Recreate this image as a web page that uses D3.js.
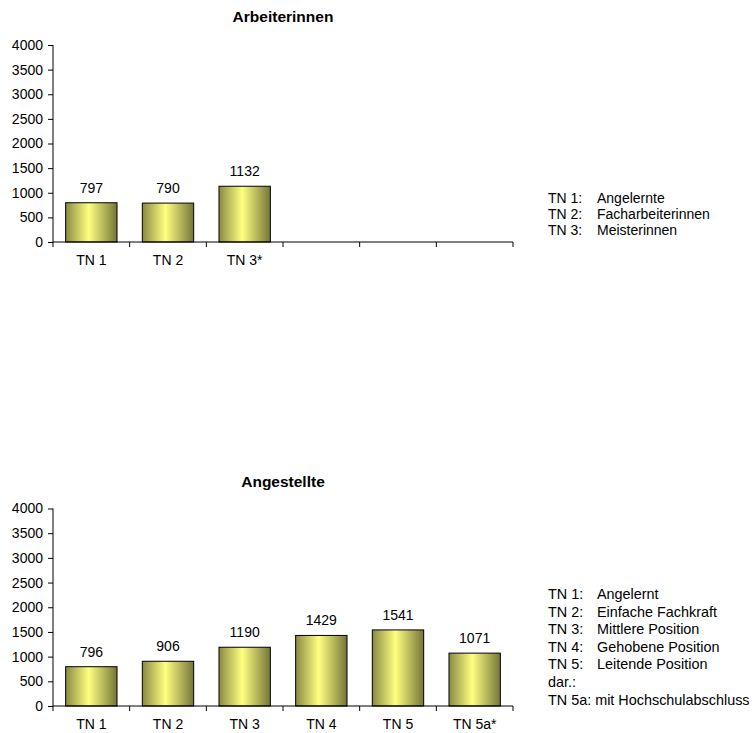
<!DOCTYPE html>
<html>
<head>
<meta charset="utf-8">
<script src="https://cdn.jsdelivr.net/npm/d3@7"></script>
<style>
  body { margin: 0; background: #fff; }
  svg { display: block; font-family: "Liberation Sans", Arial, sans-serif; }
</style>
</head>
<body>
<svg id="chart" width="754" height="733"></svg>
<script>
// ---- Data ----
const topTitle = "Arbeiterinnen";
const topCategories = ["TN 1", "TN 2", "TN 3*", "", "", ""];
const topValues = [797, 790, 1132, null, null, null];
const topLegendKeys = ["TN 1:", "TN 2:", "TN 3:"];
const topLegendTexts = ["Angelernte", "Facharbeiterinnen", "Meisterinnen"];

const bottomTitle = "Angestellte";
const bottomCategories = ["TN 1", "TN 2", "TN 3", "TN 4", "TN 5", "TN 5a*"];
const bottomValues = [796, 906, 1190, 1429, 1541, 1071];
const bottomLegendKeys = ["TN 1:", "TN 2:", "TN 3:", "TN 4:", "TN 5:", "dar.:", "TN 5a: mit Hochschulabschluss"];
const bottomLegendTexts = ["Angelernt", "Einfache Fachkraft", "Mittlere Position", "Gehobene Position", "Leitende Position", "", ""];

const yTicks = [0, 500, 1000, 1500, 2000, 2500, 3000, 3500, 4000];

// ---- Drawing ----
const FS = "14px";
const svg = d3.select("#chart");
const defs = svg.append("defs");
const grad = defs.append("linearGradient").attr("id", "barGrad")
  .attr("x1", "0%").attr("x2", "100%").attr("y1", "0%").attr("y2", "0%");
grad.append("stop").attr("offset", "0%").attr("stop-color", "#8a8a44");
grad.append("stop").attr("offset", "45%").attr("stop-color", "#ffff80");
grad.append("stop").attr("offset", "100%").attr("stop-color", "#75753a");

function drawChart(cfg) {
  const g = svg.append("g");
  const idx = cfg.categories.map((d, i) => i);
  const x = d3.scaleBand().domain(idx).range([cfg.x0, cfg.x1]).paddingInner(0.33).paddingOuter(0.165);
  const y = d3.scaleLinear().domain([0, 4000]).range([cfg.yBottom, cfg.yTop]);

  // title
  g.append("text").attr("x", (cfg.x0 + cfg.x1) / 2).attr("y", cfg.titleY)
    .attr("text-anchor", "middle").attr("dy", "0.35em")
    .attr("font-weight", "bold").attr("font-size", "15.5px").text(cfg.title);

  // bars
  const data = idx.filter(i => cfg.values[i] != null);
  g.selectAll("rect.bar").data(data).join("rect").attr("class", "bar")
    .attr("x", i => x(i)).attr("width", x.bandwidth())
    .attr("y", i => y(cfg.values[i])).attr("height", i => y(0) - y(cfg.values[i]))
    .attr("fill", "url(#barGrad)").attr("stroke", "#000").attr("stroke-width", 1);

  // value labels
  g.selectAll("text.val").data(data).join("text").attr("class", "val")
    .attr("x", i => x(i) + x.bandwidth() / 2).attr("y", i => y(cfg.values[i]) - 10)
    .attr("text-anchor", "middle").attr("font-size", FS).text(i => cfg.values[i]);

  // y axis
  const yAxis = d3.axisLeft(y).tickValues(yTicks).tickFormat(d3.format("d")).tickSize(5).tickPadding(5);
  const ya = g.append("g").attr("transform", `translate(${cfg.x0},0)`).call(yAxis);
  ya.selectAll("text").attr("font-size", FS).attr("fill", "#000");
  ya.attr("font-family", null);
  ya.selectAll("line").attr("stroke", "#000");
  ya.select(".domain").attr("stroke", "#000").attr("d", `M0,${cfg.yBottom}V${cfg.yTop}`);

  // x axis: ticks at band boundaries
  const xg = g.append("g").attr("transform", `translate(0,${cfg.yBottom})`);
  xg.append("line").attr("x1", cfg.x0).attr("x2", cfg.x1).attr("stroke", "#000").attr("stroke-width", 1.2);
  const step = x.step();
  const boundaries = idx.map(i => x(i) - x.paddingInner() * step / 2).concat([cfg.x1]);
  xg.selectAll("line.tk").data(boundaries).join("line").attr("class", "tk")
    .attr("x1", d => d).attr("x2", d => d).attr("y1", 0).attr("y2", 5).attr("stroke", "#000");
  xg.selectAll("text").data(idx).join("text")
    .attr("x", i => x(i) + x.bandwidth() / 2).attr("y", 18).attr("dy", "0.35em")
    .attr("text-anchor", "middle").attr("font-size", FS).text(i => cfg.categories[i]);

  // legend
  const lg = g.append("g");
  cfg.legendKeys.forEach((k, i) => {
    const yy = cfg.legendY + i * cfg.legendStep;
    lg.append("text").attr("x", 548).attr("y", yy).attr("dy", "0.35em").attr("font-size", cfg.legendFS).text(k);
    if (cfg.legendTexts[i]) {
      lg.append("text").attr("x", 597).attr("y", yy).attr("dy", "0.35em").attr("font-size", cfg.legendFS).text(cfg.legendTexts[i]);
    }
  });
}

drawChart({
  title: topTitle, categories: topCategories, values: topValues,
  legendKeys: topLegendKeys, legendTexts: topLegendTexts,
  x0: 53, x1: 513, yTop: 45, yBottom: 242, titleY: 17,
  legendY: 198.5, legendStep: 15.8, legendFS: "14px"
});
drawChart({
  title: bottomTitle, categories: bottomCategories, values: bottomValues,
  legendKeys: bottomLegendKeys, legendTexts: bottomLegendTexts,
  x0: 53, x1: 513, yTop: 508.5, yBottom: 706, titleY: 482,
  legendY: 594, legendStep: 17.6, legendFS: "14.4px"
});
</script>
</body>
</html>
